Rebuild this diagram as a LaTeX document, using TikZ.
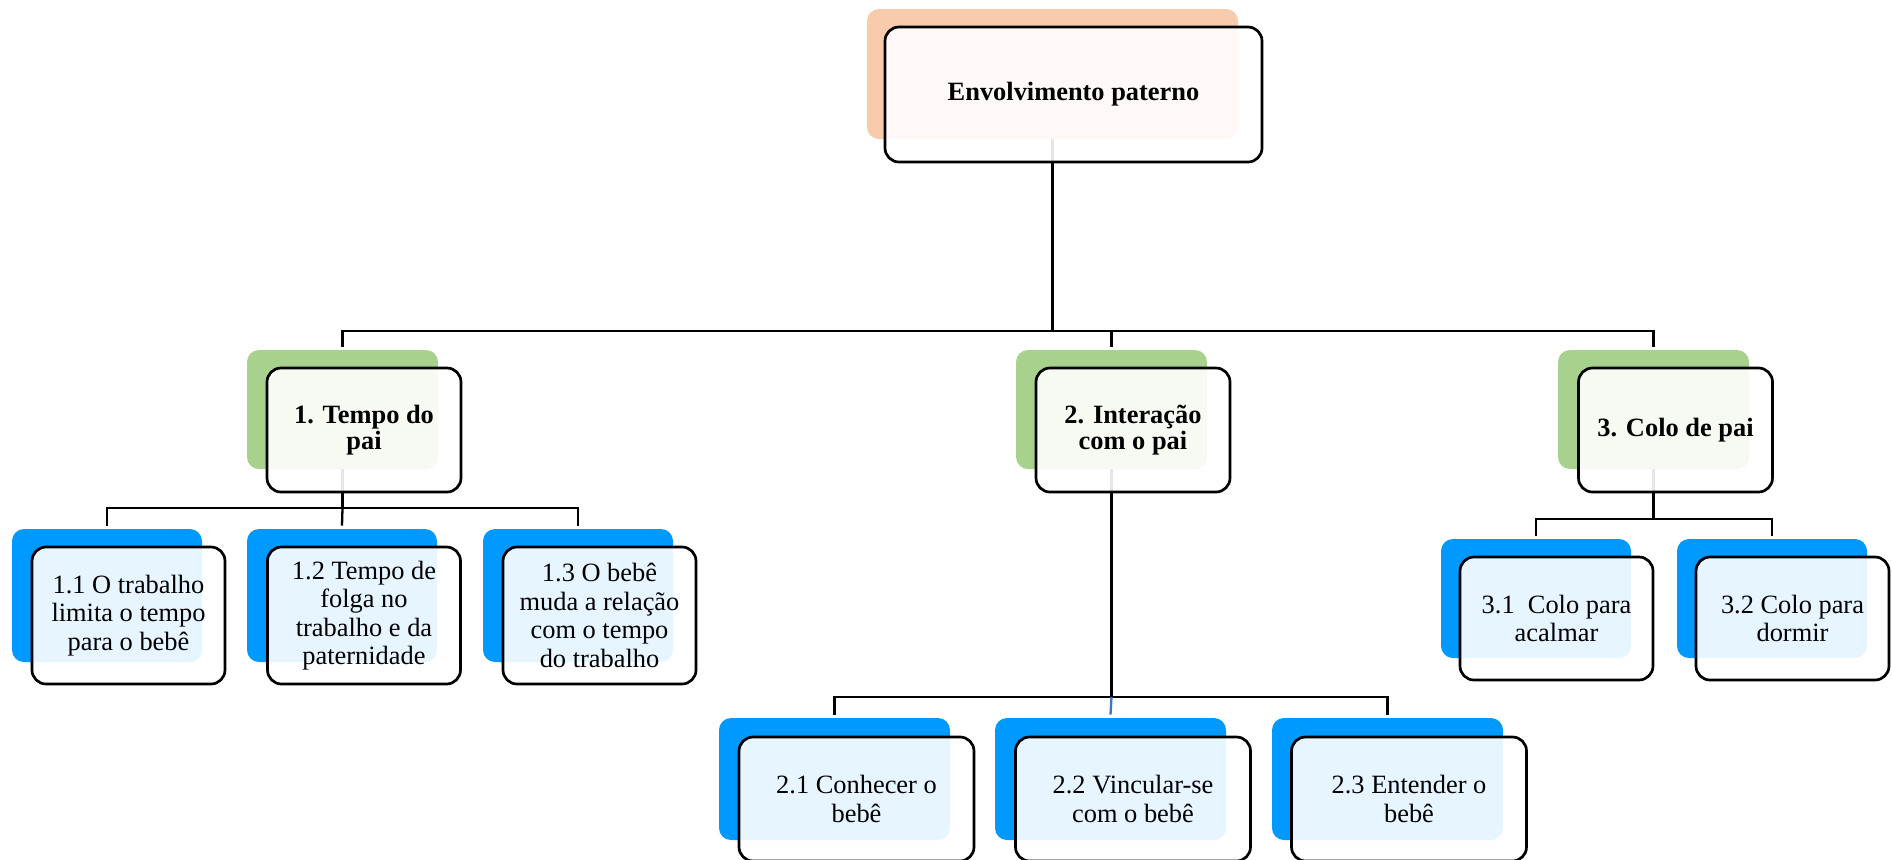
\documentclass[tikz,border=0pt]{standalone}
\usepackage{fontspec}
\setmainfont{Liberation Serif}
\usetikzlibrary{backgrounds}
\definecolor{peach}{HTML}{F8CBAD}
\definecolor{leaf}{HTML}{A9D18E}
\definecolor{sky}{HTML}{0099FF}
\definecolor{linkblue}{HTML}{4472C4}
\begin{document}
\begin{tikzpicture}[x=0.5pt,y=-0.5pt,
  conn/.style={draw=black,line width=1.15pt},
  backbox/.style={rectangle,draw=none,rounded corners=6pt,inner sep=0pt},
  frontbox/.style={rectangle,draw=black,line width=1.35pt,rounded corners=7pt,
    fill=white,fill opacity=0.9,text opacity=1,inner sep=0pt,align=center,
    font=\fontsize{13.2}{14.25}\selectfont},
  boldbox/.style={frontbox,font=\fontsize{13.2}{13}\selectfont\bfseries},
  b0/.style={backbox,fill=peach,minimum width=185.5pt,minimum height=65pt},
  f0/.style={boldbox,minimum width=188.5pt,minimum height=67.5pt},
  b1/.style={backbox,fill=leaf,minimum width=95.5pt,minimum height=59.5pt},
  f1/.style={boldbox,minimum width=97pt,minimum height=62pt},
  b2/.style={backbox,fill=sky,minimum width=95pt,minimum height=66.5pt},
  f2/.style={frontbox,minimum width=96.5pt,minimum height=68.5pt},
  b3/.style={backbox,fill=sky,minimum width=115.5pt,minimum height=61pt},
  f3/.style={frontbox,minimum width=117.5pt,minimum height=62pt},
  b4/.style={backbox,fill=sky,minimum width=95pt,minimum height=59.5pt},
  f4/.style={frontbox,minimum width=96.5pt,minimum height=61.5pt}]
\useasboundingbox (0,0) rectangle (1892,859);
\clip (0,0) rectangle (1892,859);
% bus coordinates
\coordinate (bus0) at (0,331);
\coordinate (bus1) at (0,508);
\coordinate (bus2) at (0,697);
\coordinate (bus3) at (0,519);
% back boxes
\node[b0] (r-b) at (1052.5,74) {};
\node[b1] (n1-b) at (342.5,409.5) {};
\node[b1] (n2-b) at (1111.5,409.5) {};
\node[b1] (n3-b) at (1653.5,409.5) {};
\node[b2] (a1-b) at (107,595.5) {};
\node[b2] (a2-b) at (342,595.5) {};
\node[b2] (a3-b) at (578,595.5) {};
\node[b3] (c1-b) at (834.5,779) {};
\node[b3] (c2-b) at (1110.5,779) {};
\node[b3] (c3-b) at (1387.5,779) {};
\node[b4] (d1-b) at (1536,598.5) {};
\node[b4] (d2-b) at (1772,598.5) {};
% connectors behind
\begin{scope}[on background layer]
\draw[conn] (r-b.south) -- (r-b.south |- bus0) -| ([yshift=1.5pt]n1-b.north);
\draw[conn] (r-b.south |- bus0) -| ([yshift=1.5pt]n2-b.north);
\draw[conn] (r-b.south |- bus0) -| ([yshift=1.5pt]n3-b.north);
\draw[conn] (n1-b.south) -- (n1-b.south |- bus1) -| ([yshift=1.5pt]a1-b.north);
\draw[conn] (n1-b.south |- bus1) -| ([yshift=1.5pt]a3-b.north);
\draw[conn] (n1-b.south |- bus1) -- ([yshift=1.5pt]a2-b.north);
\draw[conn] (n2-b.south) -- (n2-b.south |- bus2) -| ([yshift=1.5pt]c1-b.north);
\draw[conn] (n2-b.south |- bus2) -| ([yshift=1.5pt]c3-b.north);
\draw[conn,draw=linkblue] (n2-b.south |- bus2) -- ([yshift=1.5pt]c2-b.north);
\draw[conn] (n3-b.south) -- (n3-b.south |- bus3) -| ([yshift=1.5pt]d1-b.north);
\draw[conn] (n3-b.south |- bus3) -| ([yshift=1.5pt]d2-b.north);
\end{scope}
% front boxes
\node[f0] (r) at (1073.5,94.5) {\raisebox{-2pt}{Envolvimento paterno}};
\node[f1] (n1) at (364,430) {1. Tempo do\\pai};
\node[f1] (n2) at (1133,430) {2. Interação\\com o pai};
\node[f1] (n3) at (1675.5,430) {3. Colo de pai};
\node[f2] (a1) at (128.5,615.5) {1.1 O trabalho\\limita o tempo\\para o bebê};
\node[f2] (a2) at (364,615.5) {1.2 Tempo de\\folga no\\trabalho e da\\paternidade};
\node[f2] (a3) at (599.5,615.5) {1.3 O bebê\\muda a relação\\com o tempo\\do trabalho};
\node[f3] (c1) at (856.5,799) {2.1 Conhecer o\\bebê};
\node[f3] (c2) at (1133,799) {2.2 Vincular-se\\com o bebê};
\node[f3] (c3) at (1409,799) {2.3 Entender o\\bebê};
\node[f4] (d1) at (1556.5,618.5) {3.1~ Colo para\\acalmar};
\node[f4] (d2) at (1792.5,618.5) {3.2 Colo para\\dormir};
\end{tikzpicture}
\end{document}
